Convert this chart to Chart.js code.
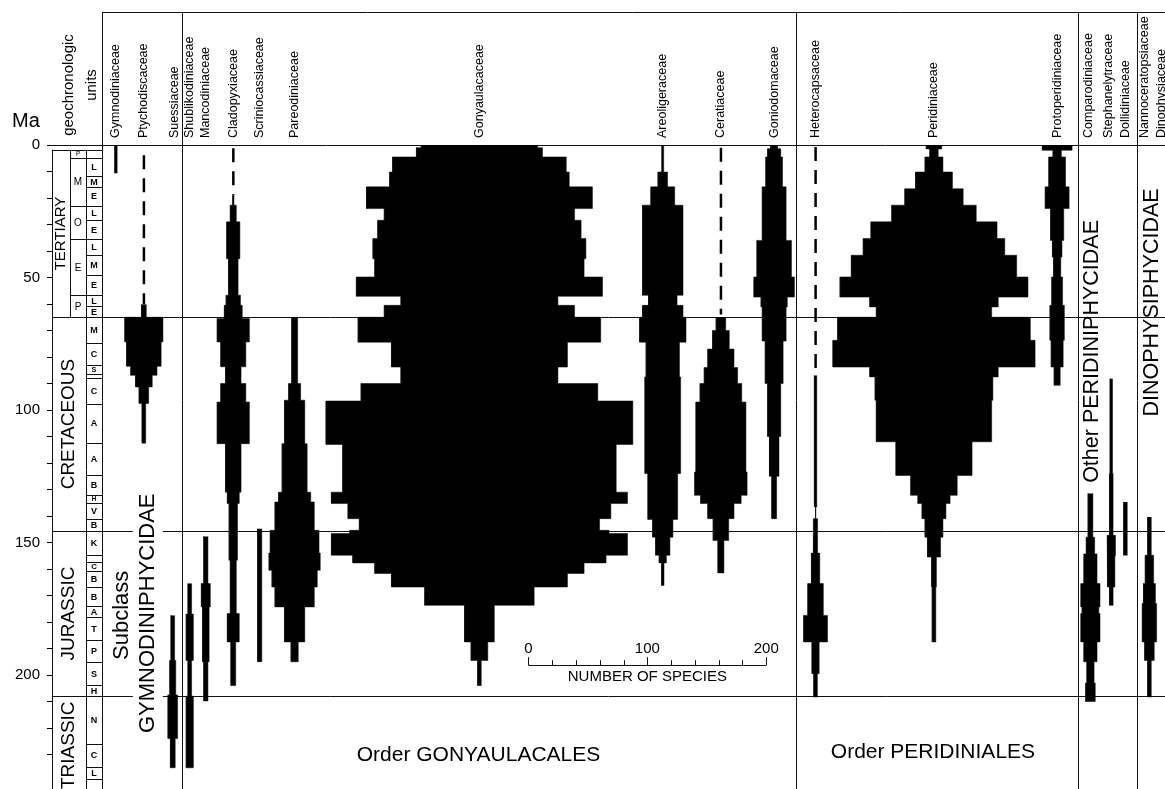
<!DOCTYPE html>
<html lang="en">
<head>
<meta charset="utf-8">
<title>Dinoflagellate families through time</title>
<script src="https://cdn.jsdelivr.net/npm/chart.js@4.4.1/dist/chart.umd.min.js"></script>
<style>
  html, body { margin: 0; padding: 0; background: #fff; }
  #box { position: relative; width: 1165px; height: 789px; }
</style>
</head>
<body>
<div id="box"><canvas id="spindles"></canvas></div>
<script>
const FONT = "'Liberation Sans', Arial, Helvetica, sans-serif";

// Ma axis
const maLabels = [0, 50, 100, 150, 200];

// geochronologic column (Ma, base of each unit)
const columnTop = 1.8;
const periodNames = ['TERTIARY', 'CRETACEOUS', 'JURASSIC', 'TRIASSIC'];
const periodBase = [65, 145.6, 208, 245];
const epochNames = ['P', 'M', 'O', 'E', 'P'];
const epochBase = [4.8, 23, 35.6, 56.7, 65];
const stageNames = ['', 'L', 'M', 'E', 'L', 'E', 'L', 'M', 'E', 'L', 'E',
  'M', 'C', 'S', '', 'C', 'A', 'A', 'B', 'H', 'V', 'B',
  'K', '', 'C', 'B', 'B', 'A', 'T', 'P', 'S', 'H',
  'N', 'C', 'L', ''];
const stageBase = [4.8, 11.8, 15.8, 23, 28.4, 35.6, 41.6, 49.2, 56.7, 60.7, 65,
  74.9, 83.1, 86.3, 87.8, 97.6, 112.5, 124.6, 132.2, 135, 141, 145.6,
  154.6, 157.4, 160.9, 166.8, 174, 178.1, 186.9, 195.1, 203.9, 208,
  225.9, 234.7, 239.1, 245];

// scale bar
const speciesTicks = [0, 20, 40, 60, 80, 100, 120, 140, 160, 180, 200];
const speciesLabels = [0, 100, 200];

// spindles: bin edges in Ma, number of species in each bin
const gymnoEdges = [0, 10.6];
const gymnoCounts = [2];

const ptychoDash = [3.9, 60.2];
const ptychoEdges = [60.2, 65, 74.3, 83.5, 86.9, 91.3, 97.5, 112.5];
const ptychoCounts = [4, 32, 29, 22, 14, 8, 3];

const suessEdges = [177.5, 194.5, 207.5, 224, 235];
const suessCounts = [3, 5, 8, 4];

const shublikEdges = [165.5, 177, 194.5, 208, 235];
const shublikCounts = [3, 6, 3, 6];

const mancoEdges = [147.7, 165.5, 174.3, 195, 209.8];
const mancoCounts = [3.5, 7.5, 5.5, 3.5];

const cladoDash = [1.2, 19];
const cladoEdges = [19, 22.7, 29, 42.9, 56.7, 60.5, 65.5, 74.3, 83.7, 90, 97, 112.7, 131, 135.3, 156.7, 176.8, 187.5, 204];
const cladoCounts = [1, 5, 11, 8, 12, 15, 27, 21, 13, 21, 27, 13, 10, 7, 5, 10, 4];

const scrinEdges = [144.8, 195];
const scrinCounts = [3.5];

const pareoEdges = [65, 90, 96.3, 112.7, 131, 134.7, 145.4, 154, 160.5, 166.8, 174.3, 187.5, 195];
const pareoCounts = [5, 10, 17, 21, 27, 33, 41, 43, 38, 33, 17, 6];

const gonyEdges = [0, 1, 4.5, 10.2, 15.8, 24, 28.4, 35.3, 42.9, 49.8, 57.1, 60.5, 65, 74.4, 83.8, 90,
  96.6, 113, 131, 135.3, 141, 145.4, 146.6, 154.8, 157.7, 161.7, 166.8, 173.7, 187.5, 194.5, 204];
const gonyCounts = [98, 106, 146, 151, 190, 160, 171, 179, 176, 207, 132, 160, 204, 148, 132,
  199, 258, 230, 249, 221, 202, 218, 249, 213, 176, 148, 92, 25, 14, 3];

const areoEdges = [0, 10.2, 15.8, 22.7, 56.7, 60.5, 65, 74.4, 87.5, 124, 141.3, 148, 154.8, 157.7, 166.2];
const areoCounts = [1.5, 8, 20, 34, 24, 34, 39, 28, 30, 25, 17, 12, 6, 2];

const ceratDash = [1, 64];
const ceratEdges = [65, 70, 77, 84, 90, 97, 111.4, 123.4, 132.2, 135.3, 141, 149.2, 161.5];
const ceratCounts = [8, 14, 22, 28, 35, 42, 42, 44, 34, 22, 13, 5];

const gonioEdges = [0, 1.4, 4.5, 15.8, 36, 49.8, 57.4, 61.1, 74, 90, 110, 125, 141];
const gonioCounts = [6, 11, 14, 20, 29, 34, 22, 20, 15, 11, 8, 4];

const heteroDash = [0.75, 85];
const heteroEdges = [87, 136.6, 141, 148, 154, 165.5, 177.5, 187.5, 199.5, 208.3];
const heteroCounts = [2, 0, 3, 4, 7, 13, 20, 6, 3];

const periEdges = [0, 1.5, 4.5, 10.2, 16.5, 22.7, 29, 35.3, 41.6, 49.8, 57.4, 61.1, 65, 73.7, 83.8,
  87.5, 96.3, 112, 124.7, 132.2, 135.3, 141, 148, 155.5, 166.8, 187.5];
const periCounts = [13, 7, 15, 31, 49, 71, 106, 119, 139, 158, 108, 97, 162, 170, 108,
  99, 97, 64, 39, 27, 20, 15, 11, 4, 3];

const protoEdges = [0, 2, 4.5, 15.8, 24, 36, 42.3, 49.8, 60.5, 73.7, 83.8, 90.7];
const protoCounts = [25, 7, 14, 20, 11, 8, 6, 9, 12, 10, 5];

const comparEdges = [131.5, 148, 154.3, 165.5, 174.3, 176.8, 187.5, 195, 203, 210];
const comparCounts = [4, 7, 11, 16, 14, 16, 11, 6, 8];

const stephEdges = [88.2, 124, 147.3, 155, 166.8, 173.7];
const stephCounts = [2, 3, 7, 6, 3];

const dolliEdges = [134.7, 154.8];
const dolliCounts = [3];

const nannoEdges = [140.4, 154.8, 165.5, 173, 187.5, 194.5, 208.3];
const nannoCounts = [3, 7, 10, 12, 8, 3];

// layout: x positions in species units (1 species = 1 unit of the x scale)
const families = [
  { label: 'Gymnodiniaceae', at: 53.8, edges: gymnoEdges, counts: gymnoCounts },
  { label: 'Ptychodiscaceae', at: 77.3, edges: ptychoEdges, counts: ptychoCounts, dash: ptychoDash },
  { label: 'Suessiaceae', at: 101.6, labelAt: 103.3, edges: suessEdges, counts: suessCounts },
  { label: 'Shublikodiniaceae', at: 115.9, edges: shublikEdges, counts: shublikCounts },
  { label: 'Mancodiniaceae', at: 129.4, edges: mancoEdges, counts: mancoCounts },
  { label: 'Cladopyxiaceae', at: 152.5, edges: cladoEdges, counts: cladoCounts, dash: cladoDash },
  { label: 'Scriniocassiaceae', at: 174.7, edges: scrinEdges, counts: scrinCounts },
  { label: 'Pareodiniaceae', at: 204.1, edges: pareoEdges, counts: pareoCounts },
  { label: 'Gonyaulacaceae', at: 359.5, edges: gonyEdges, counts: gonyCounts },
  { label: 'Areoligeraceae', at: 513.7, edges: areoEdges, counts: areoCounts },
  { label: 'Ceratiaceae', at: 562.6, edges: ceratEdges, counts: ceratCounts, dash: ceratDash },
  { label: 'Goniodomaceae', at: 607.4, edges: gonioEdges, counts: gonioCounts },
  { label: 'Heterocapsaceae', at: 642.2, edges: heteroEdges, counts: heteroCounts, dash: heteroDash },
  { label: 'Peridiniaceae', at: 741.8, edges: periEdges, counts: periCounts },
  { label: 'Protoperidiniaceae', at: 845.4, edges: protoEdges, counts: protoCounts },
  { label: 'Comparodiniaceae', at: 873.4, labelAt: 872, edges: comparEdges, counts: comparCounts },
  { label: 'Stephanelytraceae', at: 890.9, labelAt: 888.8, edges: stephEdges, counts: stephCounts },
  { label: 'Dollidiniaceae', at: 902.8, edges: dolliEdges, counts: dolliCounts },
  { label: 'Nannoceratopsiaceae', at: 923, labelAt: 919, edges: nannoEdges, counts: nannoCounts },
  { label: 'Dinophysiaceae', at: 933.3 }
];
const dividers = [42, 109.2, 625.8, 862.7, 912.3];
const scaleBarAt = 400.7;
const PX_PER_MA = 2.65;

// closed step outline of a spindle, symmetric about its column
function outline(center, edges, counts) {
  const left = [], right = [];
  counts.forEach((n, i) => {
    left.push({ x: center - n / 2, y: edges[i] }, { x: center - n / 2, y: edges[i + 1] });
    right.push({ x: center + n / 2, y: edges[i] }, { x: center + n / 2, y: edges[i + 1] });
  });
  return left.concat(right.reverse());
}

const datasets = [];
families.forEach(f => {
  if (f.dash) {
    datasets.push({
      data: [{ x: f.at, y: f.dash[0] }, { x: f.at, y: f.dash[1] }],
      borderColor: '#000', borderWidth: 2.5, borderDash: [14, 9],
      pointRadius: 0, fill: false
    });
  }
  if (f.edges) {
    datasets.push({
      data: outline(f.at, f.edges, f.counts),
      backgroundColor: '#000', borderColor: '#000', borderWidth: 0.5,
      pointRadius: 0, fill: 'shape'
    });
  }
});

function seg(ctx, x1, y1, x2, y2) {
  const v = x1 === x2, h = y1 === y2;
  const sx = v ? Math.round(x1) + 0.5 : x1, sy = h ? Math.round(y1) + 0.5 : y1;
  ctx.beginPath();
  ctx.moveTo(sx, sy);
  ctx.lineTo(v ? sx : x2, h ? sy : y2);
  ctx.stroke();
}
function vText(ctx, str, x, y, size, align, weight) {
  ctx.save();
  ctx.translate(x, y);
  ctx.rotate(-Math.PI / 2);
  ctx.font = (weight || 'normal') + ' ' + size + 'px ' + FONT;
  ctx.textAlign = align || 'center';
  ctx.textBaseline = 'middle';
  ctx.fillText(str, 0, 0);
  ctx.restore();
}
function hText(ctx, str, x, y, size, weight) {
  ctx.font = (weight || 'normal') + ' ' + size + 'px ' + FONT;
  ctx.textAlign = 'center';
  ctx.textBaseline = 'middle';
  ctx.fillText(str, x, y);
}

const decor = {
  id: 'decor',
  beforeDatasetsDraw(chart) {
    const { ctx, chartArea: a, scales: { x, y } } = chart;
    const W = chart.width, H = chart.height;
    const py = v => y.getPixelForValue(v);
    ctx.save();
    ctx.strokeStyle = '#111';
    ctx.lineWidth = 1;
    const xd = dividers.map(v => x.getPixelForValue(v));
    seg(ctx, xd[0], 12, W, 12);
    xd.forEach(px => seg(ctx, px, 12, px, H));
    seg(ctx, a.left - 5, py(0), W, py(0));
    periodBase.slice(0, -1).forEach(b => seg(ctx, a.left, py(b), W, py(b)));

    // geochronologic column
    const g0 = a.left, gE = a.left + 18, gS = a.left + 34, g1 = a.left + 50;
    seg(ctx, g0, py(columnTop), g1, py(columnTop));
    seg(ctx, g0, py(columnTop), g0, H);
    seg(ctx, gS, py(columnTop), gS, H);
    seg(ctx, gE, py(columnTop), gE, py(periodBase[0]));
    epochBase.forEach(b => seg(ctx, gE, py(b), g1, py(b)));
    stageBase.forEach(b => seg(ctx, gS, py(b), g1, py(b)));

    ctx.fillStyle = '#000';
    periodNames.forEach((n, i) => {
      const t = i ? periodBase[i - 1] : columnTop;
      const cx = i ? (g0 + gS) / 2 : (g0 + gE) / 2;
      vText(ctx, n, cx, py((t + periodBase[i]) / 2), i ? 19 : 15);
    });
    epochNames.forEach((n, i) => {
      const t = i ? epochBase[i - 1] : columnTop;
      const h = py(epochBase[i]) - py(t);
      hText(ctx, n, (gE + gS) / 2, py((t + epochBase[i]) / 2) + 0.5, Math.min(10, h * 0.8));
    });
    stageNames.forEach((n, i) => {
      if (!n) return;
      const t = i ? stageBase[i - 1] : columnTop;
      const h = py(stageBase[i]) - py(t);
      hText(ctx, n, (gS + g1) / 2, py((t + stageBase[i]) / 2) + 0.5, Math.min(9, h * 0.85), 'bold');
    });
    ctx.restore();
  },
  afterDatasetsDraw(chart) {
    const { ctx, scales: { x, y } } = chart;
    const px = v => x.getPixelForValue(v), py = v => y.getPixelForValue(v);
    ctx.save();

    // subclass / order names
    const gx = px(80.6), gy = py(176.7);
    ctx.font = '22px ' + FONT;
    const gw = ctx.measureText('GYMNODINIPHYCIDAE').width;
    ctx.fillStyle = '#fff';
    ctx.fillRect(gx - 15, gy - gw / 2 - 3, 30, gw + 6);
    ctx.fillStyle = '#000';
    vText(ctx, 'GYMNODINIPHYCIDAE', gx, gy, 22);
    vText(ctx, 'Subclass', px(58.8), py(177.5), 22);
    vText(ctx, 'Other PERIDINIPHYCIDAE', px(874.5), py(77.9), 21.5);
    vText(ctx, 'DINOPHYSIPHYCIDAE', px(924.9), py(59.4), 21.5);
    hText(ctx, 'Order GONYAULACALES', px(358.7), py(230.3), 21);
    hText(ctx, 'Order PERIDINIALES', px(740.9), py(229.2), 21);

    // scale bar in species
    ctx.strokeStyle = '#111';
    ctx.lineWidth = 1;
    const yb = py(196.3);
    seg(ctx, px(scaleBarAt), yb, px(scaleBarAt + 200), yb);
    speciesTicks.forEach(v => {
      const sx = px(scaleBarAt + v);
      seg(ctx, sx, yb - (speciesLabels.includes(v) ? 8 : 5), sx, yb);
    });
    speciesLabels.forEach(v => hText(ctx, String(v), px(scaleBarAt + v), yb - 16, 15));
    hText(ctx, 'NUMBER OF SPECIES', px(scaleBarAt + 100), yb + 12, 15);

    // family names along the top
    families.forEach(f => vText(ctx, f.label, px(f.labelAt ?? f.at), 138, 12.5, 'left'));

    hText(ctx, 'Ma', 26, 121, 20);
    vText(ctx, 'geochronologic', 69, 85, 15);
    vText(ctx, 'units', 92, 85, 15);
    ctx.restore();
  }
};

const chart = new Chart(document.getElementById('spindles'), {
  type: 'line',
  data: { datasets },
  options: {
    responsive: true,
    maintainAspectRatio: false,
    animation: false,
    events: [],
    layout: { padding: { top: 145, left: 0, right: 0, bottom: 0 } },
    plugins: { legend: { display: false }, tooltip: { enabled: false } },
    scales: {
      x: { type: 'linear', min: 0, max: 935, display: false },
      y: {
        type: 'linear', reverse: true, min: 0, max: 240, position: 'left',
        afterFit: s => { s.width = 52; },
        border: { display: false },
        grid: { drawOnChartArea: false, tickLength: 5, color: '#000' },
        ticks: {
          stepSize: 10, maxTicksLimit: 100, includeBounds: false, autoSkip: false,
          padding: 7, color: '#000', font: { family: FONT, size: 15 },
          callback: v => (maLabels.includes(v) ? String(v) : '')
        }
      }
    }
  },
  plugins: [decor]
});

// keep the Ma scale at the reference's pixels per million years
const area = chart.chartArea;
chart.options.scales.y.max = (area.bottom - area.top) / PX_PER_MA;
chart.update();
</script>
</body>
</html>
